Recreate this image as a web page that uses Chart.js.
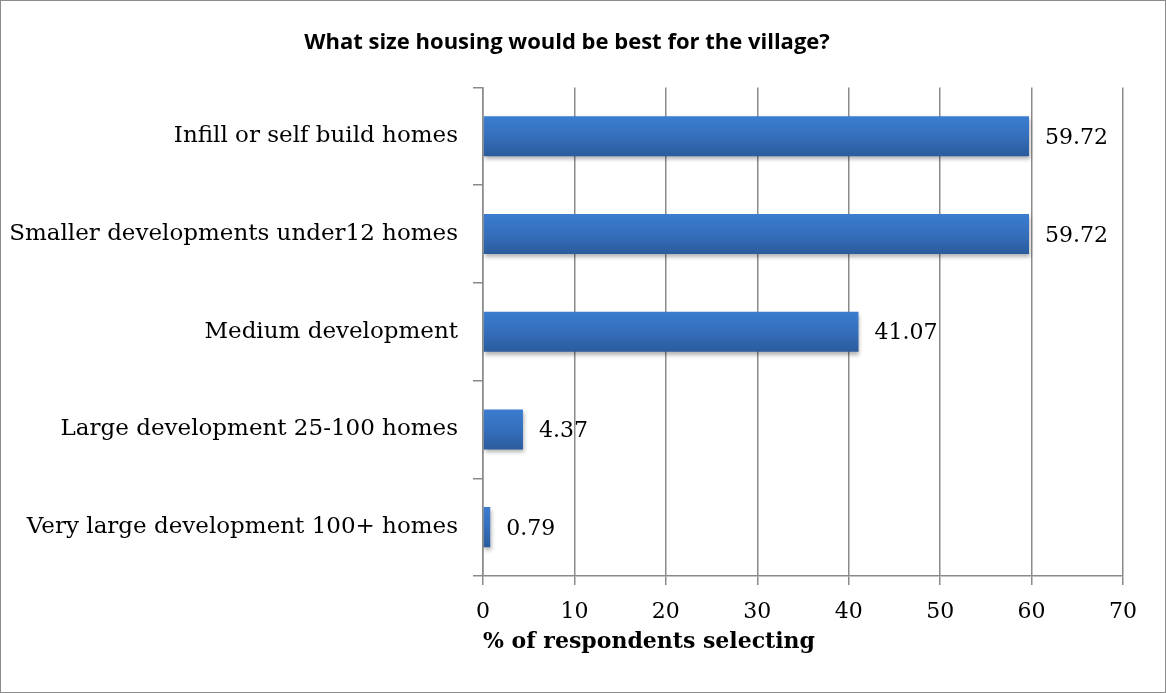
<!DOCTYPE html>
<html>
<head>
<meta charset="utf-8">
<script src="https://cdn.jsdelivr.net/npm/chart.js@4.4.1/dist/chart.umd.min.js"></script>
<style>
  html, body { margin: 0; padding: 0; background: #fff; }
  #wrap { width: 1166px; height: 693px; box-sizing: border-box; border: 1px solid #8c8c8c; position: relative; }
  canvas { display: block; }
</style>
</head>
<body>
<div id="wrap"><canvas id="housingChart" width="1164" height="691"></canvas></div>
<script>
// Chart data
const categories = [
    'Infill or self build homes',
    'Smaller developments under12 homes',
    'Medium development',
    'Large development 25-100 homes',
    'Very large development 100+ homes'
];
const percentSelecting = [59.72, 59.72, 41.07, 4.37, 0.79];
const xTicks = [0, 10, 20, 30, 40, 50, 60, 70];

const BAR_PCT = 0.41;
const GRID_GREY = '#8a8a8a';

// Blue vertical gradient per bar, computed from the category scale
function barFill(c) {
    const ch = c.chart;
    const yScale = ch.scales.y;
    if (!yScale || c.dataIndex === undefined) return '#3a76c6';
    const cy = yScale.getPixelForValue(c.dataIndex);
    const thick = (yScale.height / categories.length) * BAR_PCT;
    if (!isFinite(cy) || !isFinite(thick) || thick <= 0) return '#3a76c6';
    const g = ch.ctx.createLinearGradient(0, cy - thick / 2, 0, cy + thick / 2);
    g.addColorStop(0, '#3b7dd0');
    g.addColorStop(0.5, '#356fbc');
    g.addColorStop(1, '#2a5b9c');
    return g;
}

// soft drop shadow under the bars
const barShadow = {
    id: 'barShadow',
    beforeDatasetsDraw(chart) {
        const ctx = chart.ctx;
        ctx.save();
        ctx.shadowColor = 'rgba(0,0,0,0.3)';
        ctx.shadowBlur = 4;
        ctx.shadowOffsetX = 1;
        ctx.shadowOffsetY = 3;
    },
    afterDatasetsDraw(chart) {
        chart.ctx.restore();
    }
};

// value labels right of each bar
const valueLabels = {
    id: 'valueLabels',
    afterDatasetsDraw(chart) {
        const ctx = chart.ctx;
        const meta = chart.getDatasetMeta(0);
        ctx.save();
        ctx.font = '22px "DejaVu Serif"';
        ctx.fillStyle = '#000';
        ctx.textAlign = 'left';
        ctx.textBaseline = 'middle';
        meta.data.forEach((bar, i) => {
            ctx.fillText(percentSelecting[i].toFixed(2), bar.x + 16, bar.y + 2);
        });
        ctx.restore();
    }
};

new Chart(document.getElementById('housingChart'), {
    type: 'bar',
    data: {
        labels: categories,
        datasets: [{
            data: percentSelecting,
            backgroundColor: barFill,
            borderWidth: 0,
            barPercentage: BAR_PCT,
            categoryPercentage: 1
        }]
    },
    options: {
        indexAxis: 'y',
        responsive: false,
        animation: false,
        devicePixelRatio: 1,
        layout: { padding: { left: 10, right: 42, top: 0, bottom: 37 } },
        plugins: {
            legend: { display: false },
            tooltip: { enabled: false },
            title: {
                display: true,
                text: 'What size housing would be best for the village?',
                color: '#000',
                font: { family: '"Open Sans"', size: 22, weight: 'bold' },
                padding: { top: 29, bottom: 31 }
            }
        },
        scales: {
            x: {
                min: 0,
                max: 70,
                afterBuildTicks: (s) => { s.ticks = xTicks.map(v => ({ value: v })); },
                afterFit: (s) => { s.height = 79; },
                grid: { color: GRID_GREY, lineWidth: 1.5, tickLength: 9, tickColor: GRID_GREY },
                border: { color: GRID_GREY, width: 1.5 },
                ticks: {
                    color: '#000',
                    padding: 14,
                    font: { family: '"DejaVu Serif"', size: 22 }
                },
                title: {
                    display: true,
                    text: '% of respondents selecting',
                    align: 'start',
                    color: '#000',
                    font: { family: '"DejaVu Serif"', size: 22, weight: 'bold' },
                    padding: { top: 3, bottom: 0 }
                }
            },
            y: {
                afterFit: (s) => { s.width = 472; },
                grid: { drawOnChartArea: false, color: GRID_GREY, lineWidth: 1.5, tickLength: 10, tickColor: GRID_GREY, offset: true },
                border: { color: GRID_GREY, width: 1.5 },
                ticks: {
                    color: '#000',
                    padding: 15,
                    font: { family: '"DejaVu Serif"', size: 23 }
                }
            }
        }
    },
    plugins: [barShadow, valueLabels]
});
</script>
</body>
</html>
